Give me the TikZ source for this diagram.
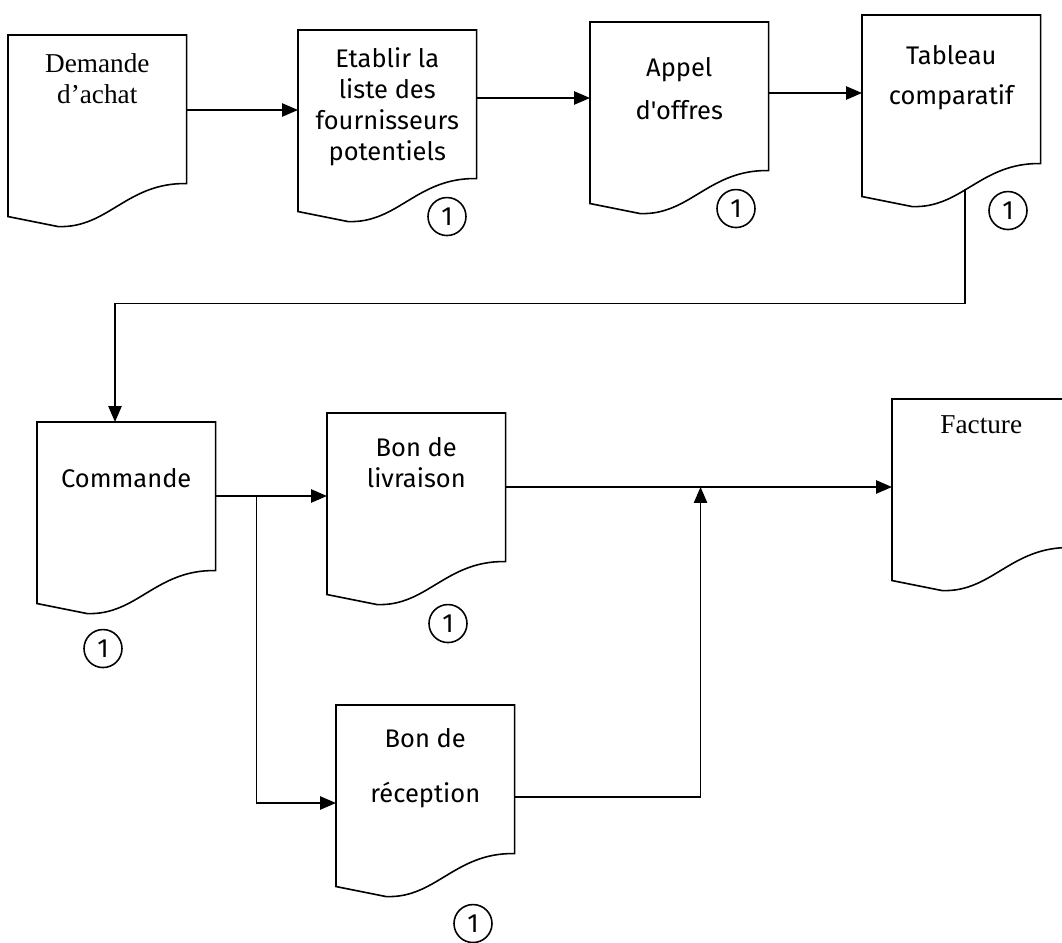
\documentclass[tikz,border=0pt]{standalone}
\usepackage{fontspec}
\setmainfont{Liberation Serif}
\newfontfamily\handfont{Fira Sans}
\usetikzlibrary{arrows.meta,calc,positioning}

\newcommand{\doctxt}[2]{\begin{minipage}[t][3.6cm][t]{3.54cm}\centering\vspace*{#1}#2\end{minipage}}

\begin{document}
\begin{tikzpicture}[x=0.02cm,y=-0.02cm,line width=0.9pt,>={Triangle[length=9pt,width=7.5pt]}]
	\tikzstyle{doc}=[inner sep=0pt,anchor=north west]
	\tikzstyle{typed}=[font=\fontsize{15.5}{17.6}\selectfont]
	\tikzstyle{hand}=[font=\handfont\fontsize{14.5}{17.6}\selectfont]
	\tikzstyle{num}=[draw,circle,inner sep=0pt,minimum size=0.76cm,font=\handfont\fontsize{15}{17}\selectfont]
	\useasboundingbox (0,0) rectangle (1062,943);

	\node[doc,typed] (dem) at (8,35) {\doctxt{0.36cm}{Demande\\d'achat}};
	\node[doc,hand] (eta) at (298,30) {\doctxt{0.34cm}{Etablir la\\liste des\\fournisseurs\\potentiels}};
	\node[doc,hand] (app) at (590,22) {\doctxt{0.7cm}{Appel\\[0.24cm]d'offres}};
	\node[doc,hand] (tab) at (862,15) {\doctxt{0.6cm}{Tableau\\[0.18cm]comparatif}};
	\node[doc,hand] (com) at (37,422) {\doctxt{0.92cm}{Commande}};
	\node[doc,hand] (liv) at (327,413) {\doctxt{0.48cm}{Bon de\\livraison}};
	\node[doc,hand] (rec) at (336,705) {\doctxt{0.46cm}{Bon de\\[0.48cm]réception}};
	\node[doc,typed] (fac) at (892,399) {\doctxt{0.32cm}{Facture}};

	% document outlines with wavy bottom
	\foreach \n in {dem,eta,app,tab,com,liv,rec,fac}
		\draw (\n.south west) -- (\n.north west) -- (\n.north east) -- ($(\n.south east)+(0,-33)$)
			.. controls ($(\n.south east)+(-60,-34)$) and ($(\n.south west)+(100,12)$) .. ($(\n.south west)+(50,10)$) -- cycle;

	\node[num] (n1) at ($(eta.south west)+(149,5)$) {1};
	\node[num] (n2) at ($(app.south west)+(146,5)$) {1};
	\node[num] (n3) at ($(tab.south west)+(146,14)$) {1};
	\node[num] (n4) at ($(com.south west)+(66,45)$) {1};
	\node[num] (n5) at ($(liv.south west)+(121,29)$) {1};
	\node[num] (n6) at ($(rec.south west)+(137,37)$) {1};

	\coordinate (a1) at ($(dem.north east)+(0,75)$);
	\coordinate (a2) at ($(eta.north east)+(0,68)$);
	\coordinate (a3) at ($(app.north east)+(0,71)$);
	\coordinate (t1) at ($(tab.south west)+(103,-8)$);
	\coordinate (c1) at ($(com.north west)+(78,0)$);
	\coordinate (c2) at ($(com.north east)+(0,74)$);
	\coordinate (b1) at ($(com.north east)+(41,74)$);
	\coordinate (l1) at ($(liv.north east)+(0,74)$);
	\coordinate (j1) at ($(l1)+(195,0)$);
	\coordinate (r1) at ($(rec.north west)+(0,98)$);
	\coordinate (r2) at ($(rec.north east)+(0,92)$);

	\draw[->] (a1) -- (a1 -| eta.west);
	\draw[->] (a2) -- (a2 -| app.west);
	\draw[->] (a3) -- (a3 -| tab.west);
	\draw[->] (t1) -- ++(0,115) -| (c1);
	\draw[->] (c2) -- (c2 -| liv.west);
	\draw[->] (b1) |- (r1);
	\draw[->] (l1) -- (l1 -| fac.west);
	\draw[->] (r2) -| (j1);
\end{tikzpicture}
\end{document}
